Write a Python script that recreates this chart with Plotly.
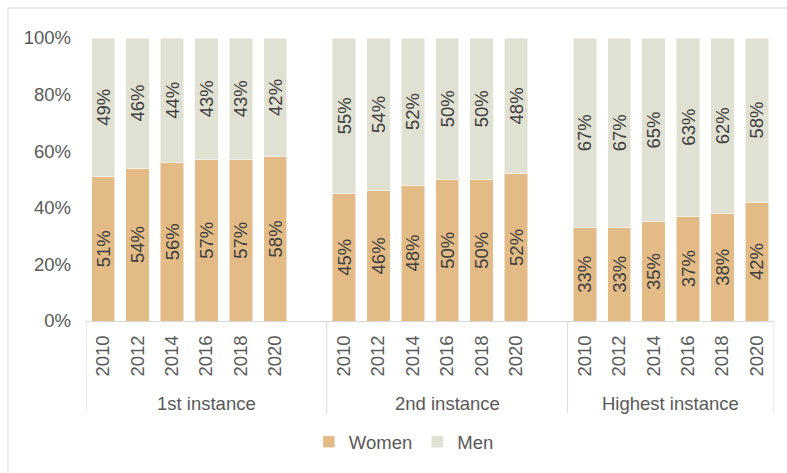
import plotly.graph_objects as go

groups = ["1st instance", "2nd instance", "Highest instance"]
years = ["2010", "2012", "2014", "2016", "2018", "2020"]
women = [
    [51, 54, 56, 57, 57, 58],
    [45, 46, 48, 50, 50, 52],
    [33, 33, 35, 37, 38, 42],
]
men = [
    [49, 46, 44, 43, 43, 42],
    [55, 54, 52, 50, 50, 48],
    [67, 67, 65, 63, 62, 58],
]
y_ticks = [0, 20, 40, 60, 80, 100]

W_COLOR = "#E3BB87"
M_COLOR = "#E0E0D3"
GRID = "#D9D9D9"
TICK = "#595959"
LABEL = "#404040"
FONT = "Liberation Sans, Arial, sans-serif"
FS = 18.5

slot = 7
xs, ticktext, wv, mv = [], [], [], []
for g in range(len(groups)):
    for i, y in enumerate(years):
        xs.append(g * slot + i)
        ticktext.append(y)
        wv.append(women[g][i])
        mv.append(men[g][i])

fig = go.Figure()
for name, vals, col in [("Women", wv, W_COLOR), ("Men", mv, M_COLOR)]:
    fig.add_trace(go.Bar(
        x=xs, y=vals, name=name, width=0.68,
        marker=dict(color=col, line=dict(color="rgba(255,255,255,0.5)", width=1)),
        text=[f"{v}%" for v in vals], textposition="inside",
        insidetextanchor="middle", textangle=-90,
        textfont=dict(color=LABEL, size=FS, family=FONT),
        hoverinfo="skip",
    ))

n_slots = len(groups) * slot - 1
fig.update_layout(
    barmode="stack",
    width=787, height=473,
    margin=dict(l=86, r=13, t=38, b=152),
    paper_bgcolor="white", plot_bgcolor="white",
    font=dict(family=FONT, size=FS, color=TICK),
    uniformtext=dict(minsize=FS, mode="show"),
    showlegend=True,
    legend=dict(orientation="h", x=0.462, xanchor="center", y=-0.428, yanchor="middle",
                font=dict(size=FS, color=TICK, family=FONT), itemwidth=30,
                traceorder="normal"),
    xaxis=dict(range=[-0.5, n_slots - 0.5], tickmode="array", tickvals=xs, ticktext=ticktext,
               tickangle=-90, showline=True, linecolor=GRID, linewidth=1, showgrid=False,
               zeroline=False, ticks="", ticklabelstandoff=6,
               tickfont=dict(size=FS, color=TICK, family=FONT)),
    yaxis=dict(range=[0, 100], tickmode="array", tickvals=y_ticks,
               ticktext=[f"{v}%" for v in y_ticks],
               showgrid=False, zeroline=False, showline=False, ticks="",
               ticklabelstandoff=14, tickfont=dict(size=FS, color=TICK, family=FONT)),
)

# group dividers and labels
bounds = [-0.5, 6.5, 13.5, n_slots - 0.5]
for b in bounds:
    fig.add_shape(type="line", xref="x", yref="paper", x0=b, x1=b, y0=0, y1=-0.325,
                  line=dict(color=GRID, width=1))
for g, name in enumerate(groups):
    fig.add_annotation(xref="x", yref="paper", x=(bounds[g] + bounds[g + 1]) / 2, y=-0.29,
                       text=name, showarrow=False, yanchor="middle",
                       font=dict(size=FS, color=TICK, family=FONT))

# outer frame
fig.add_shape(type="rect", xref="paper", yref="paper", x0=-0.1134, x1=1.1, y0=-0.6, y1=1.106,
              line=dict(color=GRID, width=1), layer="below")

fig.write_html("out.html")
